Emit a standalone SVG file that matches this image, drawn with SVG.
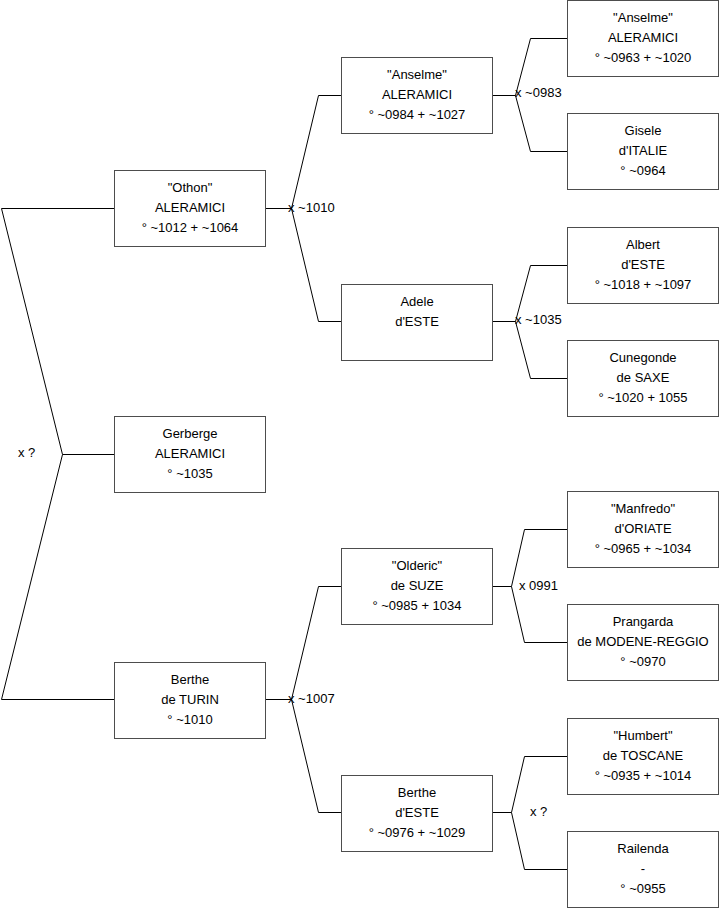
<svg xmlns="http://www.w3.org/2000/svg" width="719" height="908" viewBox="0 0 719 908">
<style>
.box{fill:#fff;stroke:#4d4d4d;stroke-width:1}
.t{font-family:"Liberation Sans",Arial,sans-serif;font-size:13px;fill:#000;text-anchor:middle}
.l{font-family:"Liberation Sans",Arial,sans-serif;font-size:13px;fill:#000}
.c{fill:none;stroke:#000;stroke-width:1}
</style>
<rect width="719" height="908" fill="#fff"/>
<g id="connectors">
<polyline class="c" points="114,208.5 1.5,208.5 62.5,454.5 1.5,699.5 114,699.5"/>
<line class="c" x1="62.5" y1="454.5" x2="114" y2="454.5"/>
<polyline class="c" points="265,208.5 291.5,208.5 318.5,95.5 341,95.5"/>
<polyline class="c" points="291.5,208.5 318.5,321.5 341,321.5"/>
<polyline class="c" points="265,699.5 291.5,699.5 318.5,586.5 341,586.5"/>
<polyline class="c" points="291.5,699.5 318.5,812.5 341,812.5"/>
<polyline class="c" points="492,95.5 515.5,95.5 530.5,38.5 567,38.5"/>
<polyline class="c" points="515.5,95.5 530.5,151.5 567,151.5"/>
<polyline class="c" points="492,321.5 515.5,321.5 530.5,265.5 567,265.5"/>
<polyline class="c" points="515.5,321.5 530.5,378.5 567,378.5"/>
<polyline class="c" points="492,586.5 511.5,586.5 524.5,529.5 567,529.5"/>
<polyline class="c" points="511.5,586.5 524.5,642.5 567,642.5"/>
<polyline class="c" points="492,812.5 511.5,812.5 524.5,756.5 567,756.5"/>
<polyline class="c" points="511.5,812.5 524.5,869.5 567,869.5"/>
<text class="l" x="18" y="457">x ?</text>
<text class="l" x="288" y="212">x ~1010</text>
<text class="l" x="288" y="703">x ~1007</text>
<text class="l" x="515" y="97">x ~0983</text>
<text class="l" x="515" y="324">x ~1035</text>
<text class="l" x="519" y="590">x 0991</text>
<text class="l" x="530" y="816">x ?</text>
</g>
<g id="othon"><rect class="box" x="114.5" y="170.5" width="151" height="76"/>
<text class="t" x="190" y="192">"Othon"</text><text class="t" x="190" y="212">ALERAMICI</text><text class="t" x="190" y="232">° ~1012 + ~1064</text></g>
<g id="gerberge"><rect class="box" x="114.5" y="416.5" width="151" height="76"/>
<text class="t" x="190" y="438">Gerberge</text><text class="t" x="190" y="458">ALERAMICI</text><text class="t" x="190" y="478">° ~1035</text></g>
<g id="berthe-turin"><rect class="box" x="114.5" y="662.5" width="151" height="76"/>
<text class="t" x="190" y="684">Berthe</text><text class="t" x="190" y="704">de TURIN</text><text class="t" x="190" y="724">° ~1010</text></g>
<g id="anselme2"><rect class="box" x="341.5" y="57.5" width="151" height="76"/>
<text class="t" x="417" y="79">"Anselme"</text><text class="t" x="417" y="99">ALERAMICI</text><text class="t" x="417" y="119">° ~0984 + ~1027</text></g>
<g id="adele"><rect class="box" x="341.5" y="284.5" width="151" height="76"/>
<text class="t" x="417" y="306">Adele</text><text class="t" x="417" y="326">d'ESTE</text></g>
<g id="olderic"><rect class="box" x="341.5" y="548.5" width="151" height="76"/>
<text class="t" x="417" y="570">"Olderic"</text><text class="t" x="417" y="590">de SUZE</text><text class="t" x="417" y="610">° ~0985 + 1034</text></g>
<g id="berthe-este"><rect class="box" x="341.5" y="775.5" width="151" height="76"/>
<text class="t" x="417" y="797">Berthe</text><text class="t" x="417" y="817">d'ESTE</text><text class="t" x="417" y="837">° ~0976 + ~1029</text></g>
<g id="anselme3"><rect class="box" x="567.5" y="0.5" width="151" height="76"/>
<text class="t" x="643" y="22">"Anselme"</text><text class="t" x="643" y="42">ALERAMICI</text><text class="t" x="643" y="62">° ~0963 + ~1020</text></g>
<g id="gisele"><rect class="box" x="567.5" y="113.5" width="151" height="76"/>
<text class="t" x="643" y="135">Gisele</text><text class="t" x="643" y="155">d'ITALIE</text><text class="t" x="643" y="175">° ~0964</text></g>
<g id="albert"><rect class="box" x="567.5" y="227.5" width="151" height="76"/>
<text class="t" x="643" y="249">Albert</text><text class="t" x="643" y="269">d'ESTE</text><text class="t" x="643" y="289">° ~1018 + ~1097</text></g>
<g id="cunegonde"><rect class="box" x="567.5" y="340.5" width="151" height="76"/>
<text class="t" x="643" y="362">Cunegonde</text><text class="t" x="643" y="382">de SAXE</text><text class="t" x="643" y="402">° ~1020 + 1055</text></g>
<g id="manfredo"><rect class="box" x="567.5" y="491.5" width="151" height="76"/>
<text class="t" x="643" y="513">"Manfredo"</text><text class="t" x="643" y="533">d'ORIATE</text><text class="t" x="643" y="553">° ~0965 + ~1034</text></g>
<g id="prangarda"><rect class="box" x="567.5" y="604.5" width="151" height="76"/>
<text class="t" x="643" y="626">Prangarda</text><text class="t" x="643" y="646">de MODENE-REGGIO</text><text class="t" x="643" y="666">° ~0970</text></g>
<g id="humbert"><rect class="box" x="567.5" y="718.5" width="151" height="76"/>
<text class="t" x="643" y="740">"Humbert"</text><text class="t" x="643" y="760">de TOSCANE</text><text class="t" x="643" y="780">° ~0935 + ~1014</text></g>
<g id="railenda"><rect class="box" x="567.5" y="831.5" width="151" height="76"/>
<text class="t" x="643" y="853">Railenda</text><text class="t" x="643" y="873">-</text><text class="t" x="643" y="893">° ~0955</text></g>
</svg>
